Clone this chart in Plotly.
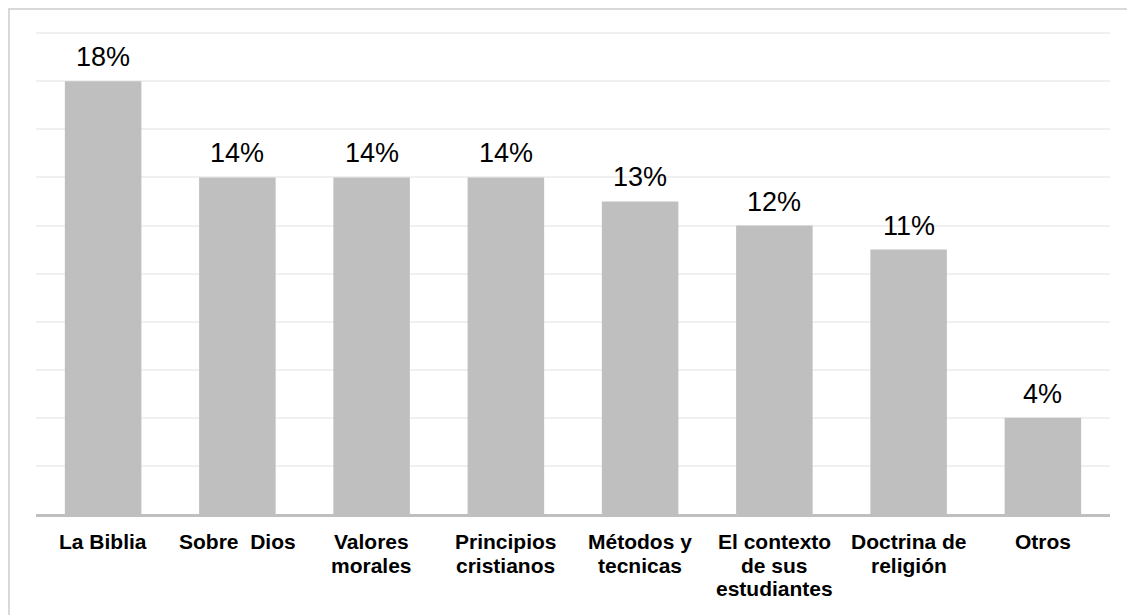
import plotly.graph_objects as go

categories = ["La Biblia", "Sobre  Dios", "Valores<br>morales", "Principios<br>cristianos",
              "Métodos y<br>tecnicas", "El contexto<br>de sus<br>estudiantes",
              "Doctrina de<br>religión", "Otros"]
values = [18, 14, 14, 14, 13, 12, 11, 4]
labels = ["18%", "14%", "14%", "14%", "13%", "12%", "11%", "4%"]

W, H = 1135, 615
L, R, T, B = 28, 33, 18, 109
pw, ph = W - L - R, H - T - B
FONT = "Liberation Sans, Arial, sans-serif"

xs = list(range(len(categories)))
fig = go.Figure(go.Bar(
    x=xs, y=values,
    marker=dict(color="#bfbfbf", line=dict(width=0)),
    hoverinfo="skip",
))

annotations = []
for i, (v, t) in enumerate(zip(values, labels)):
    annotations.append(dict(x=i, y=v, xref="x", yref="y", text=t, showarrow=False,
                            yanchor="bottom", yshift=7,
                            font=dict(family=FONT, size=27, color="#000000")))
for i, cat in enumerate(categories):
    for k, line in enumerate(cat.split("<br>")):
        annotations.append(dict(x=i, y=0, xref="x", yref="paper", text="<b>%s</b>" % line,
                                showarrow=False, yanchor="top", yshift=-14 - 23.5 * k,
                                font=dict(family=FONT, size=21, color="#000000")))

fig.update_layout(
    width=W, height=H,
    margin=dict(l=L, r=R, t=T, b=B, pad=0),
    paper_bgcolor="white", plot_bgcolor="white",
    bargap=0.43, showlegend=False,
    xaxis=dict(tickmode="array", tickvals=xs, showticklabels=False,
               range=[-0.5, len(categories) - 0.5],
               showline=True, linecolor="#bfbfbf", linewidth=3, ticks="", showgrid=False,
               zeroline=False),
    yaxis=dict(range=[0, 20.3], tick0=0, dtick=2, showticklabels=False, showgrid=True,
               gridcolor="#f0f0f0", gridwidth=2, zeroline=False, showline=False, ticks=""),
    annotations=annotations,
    shapes=[dict(type="rect", xref="paper", yref="paper",
                 x0=(1 - L) / pw, x1=1.5, y0=-1.0, y1=1 + (T - 1) / ph,
                 line=dict(color="#d9d9d9", width=2), fillcolor="rgba(0,0,0,0)", layer="below")],
)

fig.write_html("out.html")
